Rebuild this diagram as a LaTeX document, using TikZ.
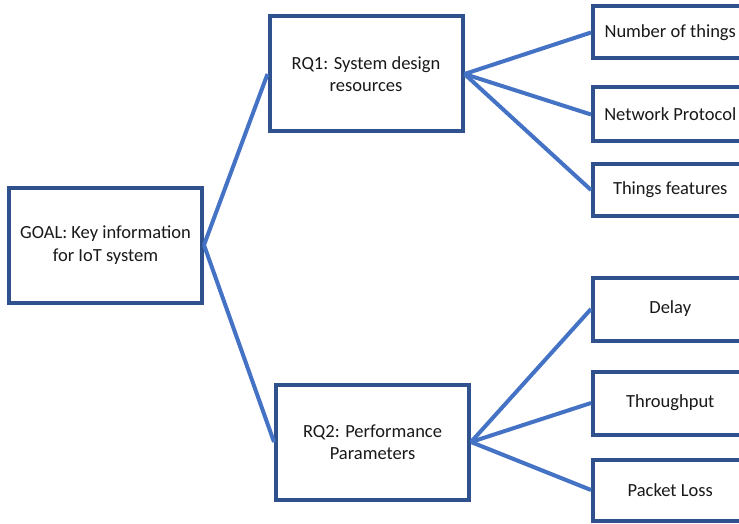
\documentclass[tikz,border=0pt]{standalone}
\usepackage{fontspec}
\setmainfont{Carlito}
\usepackage{xcolor}
\usepackage{tikz}
\usetikzlibrary{positioning}
\definecolor{boxblue}{HTML}{2F528F}
\definecolor{linkblue}{HTML}{4472C4}

\begin{document}
\begin{tikzpicture}[
  x=1pt, y=-1pt,
  box/.style={draw=boxblue, line width=4pt, fill=white, text=black!90,
              font=\fontsize{18.5}{22.5}\selectfont, align=center, inner sep=1pt},
  rq/.style={box, minimum width=193pt, minimum height=115pt},
  leaf/.style={box, anchor=west, minimum width=154.5pt},
  link/.style={draw=linkblue, line width=4pt}
]
\useasboundingbox (0,0) rectangle (739,524);
\node[rq] (goal) at (105.5,245) {GOAL: Key information\\for IoT system};
\node[rq] (rq1)  at (366,74)    {RQ1: System design\\resources};
\node[rq] (rq2)  at (372.5,442) {RQ2: Performance\\Parameters};
\node[leaf, minimum height=52pt] (things)   at (591,32.5)  {Number of things};
\node[leaf, minimum height=54pt] (protocol) at (591,114.5) {Network Protocol};
\node[leaf, minimum height=51pt] (features) at (591,190)   {Things features};
\node[leaf, minimum height=63pt] (delay)    at (591,309)   {Delay};
\node[leaf, minimum height=63pt] (through)  at (591,403)   {Throughput};
\node[leaf, minimum height=61pt] (loss)     at (591,490)   {Packet Loss};
\draw[link] (goal.east) -- (rq1.west);
\draw[link] (goal.east) -- (rq2.west);
\draw[link] (rq1.east) -- (things.west);
\draw[link] (rq1.east) -- (protocol.west);
\draw[link] (rq1.east) -- (features.west);
\draw[link] (rq2.east) -- (delay.west);
\draw[link] (rq2.east) -- (through.west);
\draw[link] (rq2.east) -- (loss.west);
\end{tikzpicture}
\end{document}
